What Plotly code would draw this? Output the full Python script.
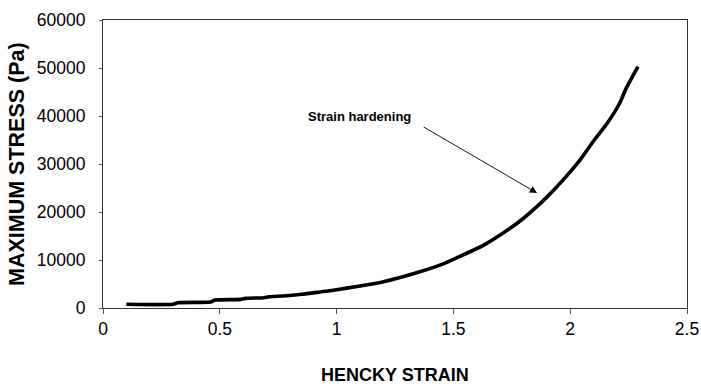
import plotly.graph_objects as go

strain = [0.10, 0.30, 0.32, 0.46, 0.48, 0.59, 0.61, 0.69, 0.71, 0.77, 0.85, 0.93, 1.00,
          1.10, 1.17, 1.26, 1.36, 1.46, 1.51, 1.63, 1.74, 1.80, 1.87, 1.90, 1.97, 2.04,
          2.10, 2.16, 2.21, 2.24, 2.29]
stress = [770, 770, 1100, 1250, 1650, 1800, 2000, 2150, 2350, 2500, 2850, 3350, 3800,
          4600, 5150, 6200, 7600, 9250, 10350, 13100, 16500, 18700, 21700, 23100, 26700, 30700,
          34800, 38600, 42500, 45800, 50300]

x_ticks = [0, 0.5, 1, 1.5, 2, 2.5]
x_tick_labels = ["0", "0.5", "1", "1.5", "2", "2.5"]
y_ticks = [0, 10000, 20000, 30000, 40000, 50000, 60000]
y_tick_labels = ["0", "10000", "20000", "30000", "40000", "50000", "60000"]

x_title = "HENCKY STRAIN"
y_title = "MAXIMUM STRESS (Pa)"
annot_text = "Strain hardening"
annot_text_pos = (1.10, 40000)
arrow_tail = (1.366, 37900)
arrow_tip = (1.858, 23960)

FONT = "Liberation Sans, Arial, sans-serif"

fig = go.Figure()
fig.add_trace(go.Scatter(x=strain, y=stress, mode="lines",
                         line=dict(color="black", width=3.6, shape="spline", smoothing=0.6),
                         showlegend=False, hoverinfo="skip"))

fig.add_annotation(x=annot_text_pos[0], y=annot_text_pos[1], xref="x", yref="y",
                   text="<b>" + annot_text + "</b>", showarrow=False,
                   font=dict(family=FONT, size=13, color="black"))
fig.add_annotation(x=arrow_tip[0], y=arrow_tip[1], ax=arrow_tail[0], ay=arrow_tail[1],
                   xref="x", yref="y", axref="x", ayref="y", text="",
                   showarrow=True, arrowhead=2, arrowsize=1.6, arrowwidth=0.9,
                   arrowcolor="black")

# axis titles
fig.add_annotation(x=0.5, y=-0.234, xref="paper", yref="paper",
                   xanchor="center", yanchor="middle", showarrow=False,
                   text="<b>" + x_title + "</b>",
                   font=dict(family=FONT, size=18, color="black"))
fig.add_annotation(x=-0.1473, y=0.5, xref="paper", yref="paper",
                   xanchor="center", yanchor="middle", showarrow=False, textangle=-90,
                   text="<b>" + y_title + "</b>",
                   font=dict(family=FONT, size=21.5, color="black"))

fig.update_layout(
    width=701, height=386,
    margin=dict(l=103, r=14, t=20, b=78),
    paper_bgcolor="white", plot_bgcolor="white",
    font=dict(family=FONT, color="black"),
    xaxis=dict(range=[0, 2.5], tickvals=x_ticks, ticktext=x_tick_labels,
               automargin=False,
               showgrid=False, zeroline=False, showline=True, mirror=True,
               linecolor="#333", linewidth=1, ticks="outside", ticklen=5,
               tickcolor="#555", tickwidth=1,
               tickfont=dict(family=FONT, size=17.5, color="black")),
    yaxis=dict(range=[0, 60000], tickvals=y_ticks, ticktext=y_tick_labels,
               automargin=False,
               showgrid=False, zeroline=False, showline=True, mirror=True,
               linecolor="#333", linewidth=1, ticks="outside", ticklen=3,
               tickcolor="#555", tickwidth=1, ticklabelstandoff=10,
               tickfont=dict(family=FONT, size=17.5, color="black")),
)

fig.write_html("out.html", config={"displayModeBar": False},
               post_script="document.body.style.margin='0';document.body.style.overflow='hidden';")
